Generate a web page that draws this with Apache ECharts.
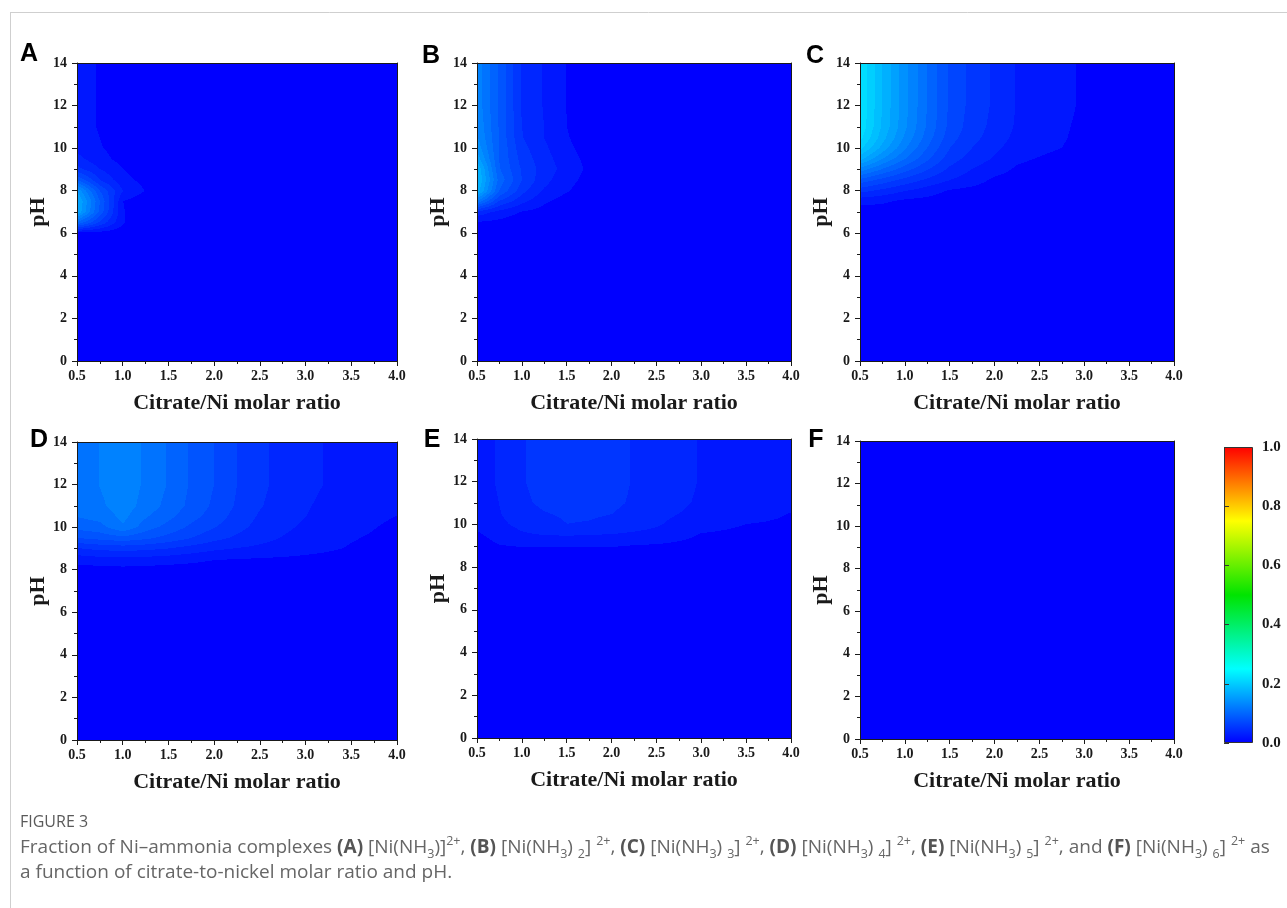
<!DOCTYPE html>
<html>
<head>
<meta charset="utf-8">
<script src="https://cdn.jsdelivr.net/npm/echarts@6.0.0/dist/echarts.min.js"></script>
<style>
html,body{margin:0;padding:0;background:#ffffff;}
#chart{width:1287px;height:908px;}
</style>
</head>
<body>
<div id="chart"></div>
<script>
// ---------------- DATA ----------------
// grid nodes: citrate/Ni molar ratio (columns) and pH (rows, top to bottom)
const RATIO = [0.5, 0.75, 1.0, 1.25, 1.5, 1.75, 2.0, 2.25, 2.5, 3.0, 3.5, 4.0];
const PH = [14, 12, 11, 10.5, 10, 9.5, 9, 8.5, 8, 7.5, 7, 6.5, 6, 0];

// fraction of each complex at the grid nodes (rows follow PH, columns follow RATIO)
const FRACTION_A = [
  [0.020,0.014,0.006,0.003,0.002,0.001,0,0,0,0,0,0],
  [0.020,0.014,0.006,0.003,0.002,0.001,0,0,0,0,0,0],
  [0.020,0.014,0.006,0.003,0.002,0.001,0,0,0,0,0,0],
  [0.021,0.015,0.007,0.003,0.002,0.001,0,0,0,0,0,0],
  [0.026,0.016,0.009,0.004,0.002,0.001,0,0,0,0,0,0],
  [0.035,0.020,0.010,0.005,0.002,0.001,0,0,0,0,0,0],
  [0.050,0.030,0.015,0.006,0.003,0.001,0,0,0,0,0,0],
  [0.090,0.045,0.020,0.010,0.003,0.001,0,0,0,0,0,0],
  [0.150,0.075,0.030,0.014,0.004,0.001,0,0,0,0,0,0],
  [0.170,0.090,0.015,0.005,0.002,0.001,0,0,0,0,0,0],
  [0.165,0.085,0.016,0.004,0.002,0.001,0,0,0,0,0,0],
  [0.100,0.055,0.016,0.003,0.001,0,0,0,0,0,0,0],
  [0.010,0.009,0.005,0.001,0,0,0,0,0,0,0,0],
  [0,0,0,0,0,0,0,0,0,0,0,0]
];
const FRACTION_B = [
  [0.130,0.088,0.043,0.029,0.0145,0.008,0.005,0.003,0.002,0.001,0,0],
  [0.130,0.088,0.043,0.029,0.0145,0.008,0.005,0.003,0.002,0.001,0,0],
  [0.134,0.089,0.045,0.030,0.015,0.008,0.005,0.003,0.002,0.001,0,0],
  [0.138,0.089,0.046,0.030,0.016,0.008,0.005,0.003,0.002,0.001,0,0],
  [0.145,0.090,0.050,0.033,0.018,0.009,0.005,0.003,0.002,0.001,0,0],
  [0.160,0.090,0.054,0.036,0.021,0.011,0.005,0.003,0.002,0.001,0,0],
  [0.180,0.092,0.058,0.038,0.024,0.012,0.005,0.003,0.002,0.001,0,0],
  [0.185,0.100,0.060,0.035,0.020,0.010,0.004,0.002,0.001,0,0,0],
  [0.175,0.090,0.050,0.028,0.016,0.007,0.003,0.002,0.001,0,0,0],
  [0.120,0.060,0.035,0.018,0.008,0.004,0.002,0.001,0,0,0,0],
  [0.040,0.025,0.014,0.009,0.004,0.002,0.001,0,0,0,0,0],
  [0.012,0.010,0.005,0.004,0.002,0.001,0,0,0,0,0,0],
  [0.005,0.004,0.002,0.001,0,0,0,0,0,0,0,0],
  [0,0,0,0,0,0,0,0,0,0,0,0]
];
const FRACTION_C = [
  [0.225,0.180,0.140,0.105,0.072,0.055,0.042,0.029,0.024,0.013,0.006,0.003],
  [0.225,0.180,0.140,0.105,0.072,0.055,0.042,0.029,0.024,0.013,0.006,0.003],
  [0.222,0.178,0.138,0.103,0.070,0.053,0.040,0.028,0.022,0.012,0.005,0.003],
  [0.215,0.172,0.132,0.098,0.066,0.050,0.037,0.026,0.021,0.0115,0.005,0.002],
  [0.200,0.160,0.122,0.090,0.060,0.045,0.033,0.023,0.019,0.011,0.004,0.002],
  [0.170,0.135,0.105,0.078,0.052,0.038,0.028,0.018,0.014,0.006,0.003,0.001],
  [0.130,0.105,0.082,0.062,0.042,0.030,0.021,0.013,0.009,0.004,0.002,0.001],
  [0.085,0.070,0.055,0.042,0.030,0.022,0.012,0.009,0.006,0.003,0.001,0],
  [0.050,0.040,0.030,0.022,0.013,0.010,0.007,0.005,0.003,0.002,0.001,0],
  [0.020,0.018,0.012,0.010,0.007,0.005,0.003,0.002,0.001,0,0,0],
  [0.008,0.007,0.005,0.004,0.003,0.002,0.001,0,0,0,0,0],
  [0.004,0.003,0.002,0.002,0.001,0.001,0,0,0,0,0,0],
  [0.002,0.001,0.001,0.001,0,0,0,0,0,0,0,0],
  [0,0,0,0,0,0,0,0,0,0,0,0]
];
const FRACTION_D = [
  [0.112,0.1205,0.130,0.117,0.104,0.088,0.075,0.060,0.048,0.033,0.025,0.020],
  [0.112,0.1205,0.130,0.117,0.104,0.088,0.075,0.060,0.048,0.033,0.025,0.020],
  [0.110,0.117,0.128,0.114,0.100,0.086,0.072,0.058,0.046,0.031,0.023,0.018],
  [0.105,0.110,0.124,0.106,0.094,0.080,0.068,0.054,0.043,0.030,0.021,0.0145],
  [0.095,0.100,0.118,0.097,0.085,0.072,0.061,0.050,0.040,0.027,0.019,0.012],
  [0.075,0.080,0.085,0.078,0.070,0.060,0.050,0.042,0.035,0.023,0.016,0.011],
  [0.045,0.050,0.052,0.050,0.046,0.040,0.034,0.030,0.027,0.020,0.014,0.010],
  [0.022,0.025,0.026,0.025,0.023,0.020,0.016,0.015,0.014,0.012,0.010,0.008],
  [0.008,0.009,0.010,0.009,0.008,0.007,0.006,0.005,0.005,0.004,0.004,0.003],
  [0.003,0.003,0.003,0.003,0.003,0.002,0.002,0.002,0.002,0.001,0.001,0.001],
  [0.001,0.001,0.001,0.001,0.001,0.001,0.001,0.001,0.001,0,0,0],
  [0,0,0,0,0,0,0,0,0,0,0,0],
  [0,0,0,0,0,0,0,0,0,0,0,0],
  [0,0,0,0,0,0,0,0,0,0,0,0]
];
const FRACTION_E = [
  [0.026,0.031,0.044,0.050,0.052,0.052,0.050,0.044,0.040,0.029,0.024,0.020],
  [0.026,0.031,0.044,0.050,0.052,0.052,0.050,0.044,0.040,0.029,0.024,0.020],
  [0.025,0.030,0.042,0.048,0.050,0.050,0.048,0.043,0.037,0.028,0.022,0.018],
  [0.023,0.029,0.038,0.044,0.047,0.047,0.045,0.040,0.034,0.026,0.020,0.0145],
  [0.020,0.027,0.034,0.040,0.045,0.044,0.041,0.037,0.032,0.020,0.015,0.013],
  [0.012,0.022,0.028,0.030,0.031,0.030,0.029,0.027,0.025,0.014,0.012,0.010],
  [0.006,0.014,0.016,0.016,0.016,0.016,0.016,0.014,0.013,0.010,0.007,0.005],
  [0.003,0.005,0.006,0.006,0.006,0.006,0.006,0.005,0.005,0.004,0.003,0.002],
  [0.001,0.002,0.002,0.002,0.002,0.002,0.002,0.002,0.002,0.001,0.001,0.001],
  [0,0,0,0,0,0,0,0,0,0,0,0],
  [0,0,0,0,0,0,0,0,0,0,0,0],
  [0,0,0,0,0,0,0,0,0,0,0,0],
  [0,0,0,0,0,0,0,0,0,0,0,0],
  [0,0,0,0,0,0,0,0,0,0,0,0]
];
const FRACTION_F = [
  [0,0,0,0,0,0,0,0,0,0,0,0],
  [0,0,0,0,0,0,0,0,0,0,0,0],
  [0,0,0,0,0,0,0,0,0,0,0,0],
  [0,0,0,0,0,0,0,0,0,0,0,0],
  [0,0,0,0,0,0,0,0,0,0,0,0],
  [0,0,0,0,0,0,0,0,0,0,0,0],
  [0,0,0,0,0,0,0,0,0,0,0,0],
  [0,0,0,0,0,0,0,0,0,0,0,0],
  [0,0,0,0,0,0,0,0,0,0,0,0],
  [0,0,0,0,0,0,0,0,0,0,0,0],
  [0,0,0,0,0,0,0,0,0,0,0,0],
  [0,0,0,0,0,0,0,0,0,0,0,0],
  [0,0,0,0,0,0,0,0,0,0,0,0],
  [0,0,0,0,0,0,0,0,0,0,0,0]
];
const PANEL_LABELS = ['A', 'B', 'C', 'D', 'E', 'F'];
const X_TITLE = 'Citrate/Ni molar ratio';
const Y_TITLE = 'pH';
const COLORBAR_MIN = 0, COLORBAR_MAX = 1, COLORBAR_STEP = 0.2;
const LEVEL_STEP = 0.015;
const PALETTE = ['#0000ff', '#00ffff', '#00e400', '#ffff00', '#ff0000'];
const CAPTION_TITLE = 'FIGURE 3';
const CAPTION_LINE1 = 'Fraction of Ni\u2013ammonia complexes {b|(A)} [Ni(NH{sub|3})]{sup|2+}, {b|(B)} [Ni(NH{sub|3}) {sub|2}] {sup|2+}, {b|(C)} [Ni(NH{sub|3}) {sub|3}] {sup|2+}, {b|(D)} [Ni(NH{sub|3}) {sub|4}] {sup|2+}, {b|(E)} [Ni(NH{sub|3}) {sub|5}] {sup|2+}, and {b|(F)} [Ni(NH{sub|3}) {sub|6}] {sup|2+} as';
const CAPTION_LINE2 = 'a function of citrate-to-nickel molar ratio and pH.';

const FRACTIONS = [FRACTION_A, FRACTION_B, FRACTION_C, FRACTION_D, FRACTION_E, FRACTION_F];

// ---------------- LAYOUT ----------------
const GRIDS = [
  {left: 77,  top: 63,  width: 320, height: 298},
  {left: 477, top: 63,  width: 314, height: 298},
  {left: 860, top: 63,  width: 314, height: 298},
  {left: 77,  top: 442, width: 320, height: 298},
  {left: 477, top: 439, width: 314, height: 299},
  {left: 860, top: 441, width: 314, height: 298}
];
const LETTER_POS = [[29, 54], [431, 56], [815, 56], [39, 440], [432, 440], [816, 440]];
const CBAR = {left: 1224, top: 447, width: 29, height: 296};

const SERIF = '"Liberation Serif", "Times New Roman", serif';
const INK = '#1a1a1a';

// ---------------- COLOURS ----------------
function hexToRgb(h) { return [parseInt(h.slice(1,3),16), parseInt(h.slice(3,5),16), parseInt(h.slice(5,7),16)]; }
const PAL_RGB = PALETTE.map(hexToRgb);
function colorAt(t) {
  t = Math.min(1, Math.max(0, (t - COLORBAR_MIN) / (COLORBAR_MAX - COLORBAR_MIN)));
  const n = PAL_RGB.length - 1, f = t * n;
  const i = Math.min(n - 1, Math.floor(f)), r = f - i;
  const a = PAL_RGB[i], b = PAL_RGB[i + 1];
  return 'rgb(' + a.map((c, k) => Math.round(c + (b[k] - c) * r)).join(',') + ')';
}
function bandOf(v) { return Math.max(0, Math.floor(v / LEVEL_STEP + 1e-6)); }
const bandColorCache = {};
function bandColor(k) {
  if (!(k in bandColorCache)) bandColorCache[k] = colorAt(k === 0 ? 0 : (k + 0.5) * LEVEL_STEP);
  return bandColorCache[k];
}

// ---------------- CELLS ----------------
function buildCells(F) {
  const cells = [];
  for (let j = 0; j < PH.length - 1; j++) {
    const p1 = PH[j], p0 = PH[j + 1];
    for (let i = 0; i < RATIO.length - 1; i++) {
      cells.push([RATIO[i], RATIO[i + 1], p0, p1,
        F[j + 1][i], F[j + 1][i + 1], F[j][i], F[j][i + 1]]);
    }
  }
  return cells;
}

function renderCell(params, api) {
  const x0 = api.value(0), x1 = api.value(1), p0 = api.value(2), p1 = api.value(3);
  const v00 = api.value(4), v10 = api.value(5), v01 = api.value(6), v11 = api.value(7);
  const A = api.coord([x0, p0]), B = api.coord([x1, p1]);
  const L = Math.round(A[0]), R = Math.round(B[0]);
  const Bt = Math.round(A[1]), T = Math.round(B[1]);
  const W = R - L, H = Bt - T;
  const k00 = bandOf(v00), k10 = bandOf(v10), k01 = bandOf(v01), k11 = bandOf(v11);
  if (k00 === k10 && k00 === k01 && k00 === k11) {
    return {type: 'rect', silent: true, shape: {x: L, y: T, width: W, height: H},
            style: {fill: bandColor(k00)}};
  }
  const children = [];
  for (let r = 0; r < H; r++) {
    const w = 1 - (r + 0.5) / H;
    let runStart = 0, runBand = null;
    for (let c = 0; c <= W; c++) {
      let k = null;
      if (c < W) {
        const u = (c + 0.5) / W;
        const v = v00 * (1 - u) * (1 - w) + v10 * u * (1 - w) + v01 * (1 - u) * w + v11 * u * w;
        k = bandOf(v);
      }
      if (c === W || k !== runBand) {
        if (runBand !== null) {
          children.push({type: 'rect', silent: true,
            shape: {x: L + runStart, y: T + r, width: c - runStart, height: 1},
            style: {fill: bandColor(runBand)}});
        }
        runStart = c; runBand = k;
      }
    }
  }
  return {type: 'group', children: children};
}

// ---------------- OPTION ----------------
const grids = [], xAxes = [], yAxes = [], series = [], graphics = [];
const lineStyle = {color: INK, width: 1};
const labelStyle = {fontFamily: SERIF, fontWeight: 'bold', fontSize: 14, color: INK};
const titleStyle = {fontFamily: SERIF, fontWeight: 'bold', fontSize: 22, color: INK};

GRIDS.forEach((g, p) => {
  grids.push(Object.assign({outerBoundsMode: 'none', containLabel: false}, g));
  xAxes.push({
    gridIndex: p, type: 'value', position: 'bottom', min: 0.5, max: 4.0, interval: 0.5, z: 5,
    axisLine: {show: true, onZero: false, lineStyle: lineStyle},
    axisTick: {show: true, inside: false, length: 5, lineStyle: lineStyle},
    minorTick: {show: true, splitNumber: 2, length: 3, lineStyle: lineStyle},
    splitLine: {show: false}, minorSplitLine: {show: false},
    axisLabel: Object.assign({margin: 8, formatter: v => v.toFixed(1)}, labelStyle),
    name: X_TITLE, nameLocation: 'middle', nameGap: 31, nameTextStyle: titleStyle
  });
  xAxes.push({
    gridIndex: p, type: 'value', position: 'top', min: 0.5, max: 4.0, z: 5,
    axisLine: {show: true, onZero: false, lineStyle: lineStyle},
    axisTick: {show: false}, axisLabel: {show: false}, splitLine: {show: false}
  });
  yAxes.push({
    gridIndex: p, type: 'value', position: 'left', min: 0, max: 14, interval: 2, z: 5,
    axisLine: {show: true, onZero: false, lineStyle: lineStyle},
    axisTick: {show: true, inside: false, length: 5, lineStyle: lineStyle},
    minorTick: {show: true, splitNumber: 2, length: 3, lineStyle: lineStyle},
    splitLine: {show: false}, minorSplitLine: {show: false},
    axisLabel: Object.assign({margin: 10, formatter: v => String(v)}, labelStyle),
    name: Y_TITLE, nameLocation: 'middle', nameRotate: 90, nameGap: 28, nameTextStyle: titleStyle
  });
  yAxes.push({
    gridIndex: p, type: 'value', position: 'right', min: 0, max: 14, z: 5,
    axisLine: {show: true, onZero: false, lineStyle: lineStyle},
    axisTick: {show: false}, axisLabel: {show: false}, splitLine: {show: false}
  });
  series.push({
    type: 'custom', name: PANEL_LABELS[p], xAxisIndex: 2 * p, yAxisIndex: 2 * p,
    coordinateSystem: 'cartesian2d', clip: true, silent: true, animation: false,
    encode: {x: [0, 1], y: [2, 3]},
    data: buildCells(FRACTIONS[p]),
    renderItem: renderCell
  });
  graphics.push({
    type: 'text', x: LETTER_POS[p][0], y: LETTER_POS[p][1], silent: true,
    style: {text: PANEL_LABELS[p], fontFamily: '"Liberation Sans", Arial, sans-serif',
            fontWeight: 'bold', fontSize: 25, fill: '#000', align: 'center', verticalAlign: 'middle'}
  });
});

// colour bar
const cbIndex = GRIDS.length;
grids.push(Object.assign({outerBoundsMode: 'none', containLabel: false}, CBAR));
xAxes.push({gridIndex: cbIndex, type: 'value', min: 0, max: 1, show: false});
yAxes.push({
  gridIndex: cbIndex, type: 'value', position: 'right', min: COLORBAR_MIN, max: COLORBAR_MAX,
  interval: COLORBAR_STEP, z: 5,
  axisLine: {show: false},
  axisTick: {show: true, inside: false, length: 5, lineStyle: {color: '#333', width: 1}},
  splitLine: {show: false},
  axisLabel: Object.assign({margin: 9, formatter: v => v.toFixed(1)}, labelStyle, {fontSize: 15})
});
series.push({
  type: 'custom', name: 'colorbar', xAxisIndex: 2 * cbIndex, yAxisIndex: 2 * cbIndex,
  coordinateSystem: 'cartesian2d', silent: true, animation: false,
  encode: {x: [0, 1], y: [2, 3]},
  data: [[0, 1, COLORBAR_MIN, COLORBAR_MAX]],
  renderItem: function (params, api) {
    const a = api.coord([api.value(0), api.value(2)]);
    const b = api.coord([api.value(1), api.value(3)]);
    const stops = PALETTE.map((c, i) => ({offset: i / (PALETTE.length - 1), color: c}));
    return {type: 'rect', silent: true,
      shape: {x: a[0] + 0.5, y: b[1] + 0.5, width: b[0] - a[0] - 1, height: a[1] - b[1] - 1},
      style: {fill: new echarts.graphic.LinearGradient(0, 1, 0, 0, stops), stroke: '#333', lineWidth: 1}};
  }
});

// page frame and caption
graphics.push({type: 'line', silent: true, shape: {x1: 10, y1: 12.5, x2: 1287, y2: 12.5}, style: {stroke: '#cfcfcf', lineWidth: 1}});
graphics.push({type: 'line', silent: true, shape: {x1: 10.5, y1: 12, x2: 10.5, y2: 908}, style: {stroke: '#cfcfcf', lineWidth: 1}});
const capFont = '"Open Sans", "Noto Sans", sans-serif';
graphics.push({
  type: 'text', x: 20, y: 822, silent: true,
  style: {text: CAPTION_TITLE, fontFamily: capFont, fontSize: 16, fill: '#5a5a5a', verticalAlign: 'middle'}
});
const capRich = {
  b: {fontFamily: capFont, fontSize: 19, fontWeight: 'bold', fill: '#555'},
  sub: {fontFamily: capFont, fontSize: 12.5, fill: '#666', verticalAlign: 'bottom'},
  sup: {fontFamily: capFont, fontSize: 12.5, fill: '#666', verticalAlign: 'top'}
};
graphics.push({
  type: 'text', x: 20, y: 848, silent: true,
  style: {text: CAPTION_LINE1, fontFamily: capFont, fontSize: 19, fill: '#666',
          verticalAlign: 'middle', lineHeight: 26, rich: capRich}
});
graphics.push({
  type: 'text', x: 20, y: 873, silent: true,
  style: {text: CAPTION_LINE2, fontFamily: capFont, fontSize: 19, fill: '#666',
          verticalAlign: 'middle', lineHeight: 26, rich: capRich}
});

const chart = echarts.init(document.getElementById('chart'), null, {renderer: 'canvas'});
chart.setOption({
  animation: false,
  backgroundColor: '#ffffff',
  grid: grids,
  xAxis: xAxes,
  yAxis: yAxes,
  series: series,
  graphic: graphics
});
</script>
</body>
</html>
